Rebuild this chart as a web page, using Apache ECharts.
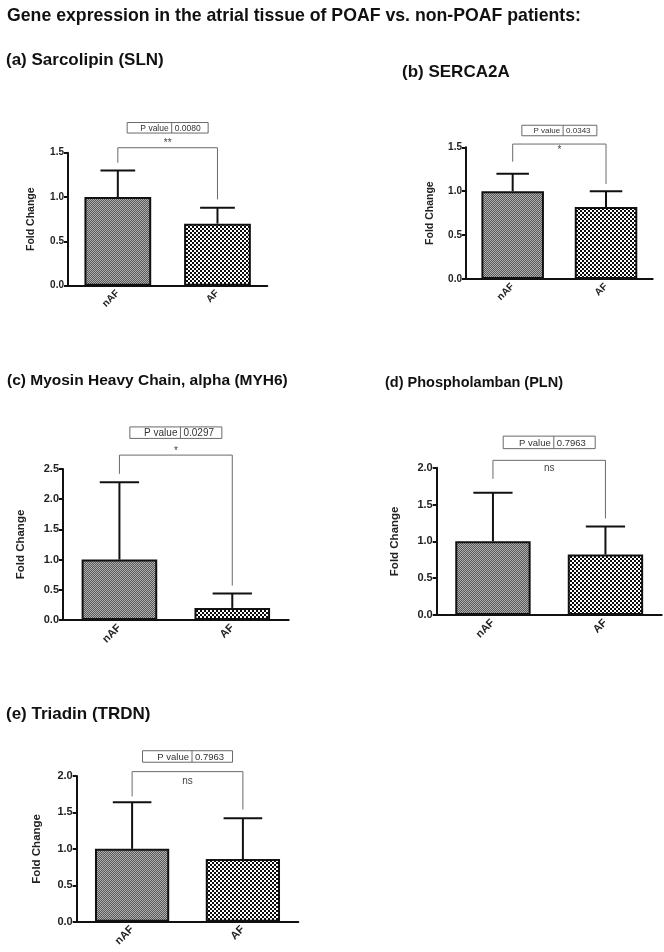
<!DOCTYPE html>
<html>
<head>
<meta charset="utf-8">
<script src="https://cdn.jsdelivr.net/npm/echarts@6/dist/echarts.min.js"></script>
<style>
html,body{margin:0;padding:0;background:#fff;}
#chart{width:664px;height:952px;}
</style>
</head>
<body>
<div id="chart"></div>
<script>
// ---------- data ----------
const categories = ['nAF', 'AF'];
const slnMean = [1.00, 0.70];
const slnErr = [0.30, 0.18];
const sercaMean = [1.00, 0.82];
const sercaErr = [0.20, 0.18];
const myh6Mean = [1.00, 0.20];
const myh6Err = [1.28, 0.24];
const plnMean = [1.00, 0.82];
const plnErr = [0.66, 0.38];
const trdnMean = [1.00, 0.86];
const trdnErr = [0.64, 0.56];
const yMax = [1.5, 1.5, 2.5, 2.0, 2.0];
const yInterval = 0.5;
const pValues = ['0.0080', '0.0343', '0.0297', '0.7963', '0.7963'];
const sigLabels = ['**', '*', '*', 'ns', 'ns'];
const mainTitle = 'Gene expression in the atrial tissue of POAF vs. non-POAF patients:';
const panelTitles = ['(a) Sarcolipin (SLN)', '(b) SERCA2A', '(c) Myosin Heavy Chain, alpha (MYH6)', '(d) Phospholamban (PLN)', '(e) Triadin (TRDN)'];
const yAxisName = 'Fold Change';
// significance bracket levels (data units): top, left leg end, right leg end
const bracketTop = [1.556, 1.537, 2.73, 2.10, 2.06];
const bracketLeft = [1.387, 1.336, 2.42, 1.85, 1.72];
const bracketRight = [0.974, 1.082, 0.57, 1.31, 1.54];

const means = [slnMean, sercaMean, myh6Mean, plnMean, trdnMean];
const errs = [slnErr, sercaErr, myh6Err, plnErr, trdnErr];

// ---------- layout / style ----------
const grids = [
  {left: 68, top: 152.7, width: 199.3, height: 133},
  {left: 466, top: 147.3, width: 186.7, height: 131.7},
  {left: 63, top: 469, width: 225.7, height: 151},
  {left: 436.7, top: 467.7, width: 225, height: 147.3},
  {left: 76.7, top: 776, width: 221.6, height: 145.7}
];
const titlePos = [
  {left: 1, top: 47}, {left: 397, top: 59}, {left: 2, top: 368}, {left: 380, top: 370}, {left: 1, top: 701}
];
const titleFs = [17, 17, 15.5, 14.5, 17];
const tickFs = [10, 10, 11, 11, 11];
const nameFs = [10.5, 10.5, 11.5, 11.5, 11.5];
const nameGaps = [31, 30, 36, 36, 34];
const boxW = [81, 75, 92, 92, 90];
const boxH = [10.5, 10.5, 11.5, 12.5, 11.5];
const boxGap = [14.7, 8.3, 16.7, 11.7, 9.4];
const pFs = [8.5, 8, 10, 9.5, 9.5];
const sigMode = ['above', 'below', 'above', 'belowMid', 'belowMid'];
const sigOff = [0, 1, 0, 8, 10];
const FONT = '"Liberation Sans", Arial, sans-serif';

function makePattern(size, cell, c1, c2) {
  const cv = document.createElement('canvas');
  cv.width = size; cv.height = size;
  const ctx = cv.getContext('2d');
  ctx.fillStyle = c1; ctx.fillRect(0, 0, size, size);
  ctx.fillStyle = c2;
  for (let y = 0; y < size; y += cell) {
    for (let x = 0; x < size; x += cell) {
      if (((x / cell) + (y / cell)) % 2 === 0) ctx.fillRect(x, y, cell, cell);
    }
  }
  return cv;
}
const patFine = makePattern(2, 1, '#585858', '#b0b0b0');
const patCoarse = makePattern(4, 2, '#0a0a0a', '#ffffff');

const chart = echarts.init(document.getElementById('chart'), null, {renderer: 'canvas'});

const option = {
  animation: false,
  backgroundColor: '#fff',
  title: [{
    text: mainTitle, left: 2, top: 2,
    textStyle: {fontFamily: FONT, fontWeight: 'bold', fontSize: 17.7, color: '#111'}
  }].concat(panelTitles.map((t, i) => ({
    text: t, left: titlePos[i].left, top: titlePos[i].top,
    textStyle: {fontFamily: FONT, fontWeight: 'bold', fontSize: titleFs[i], color: '#111'}
  }))),
  grid: grids.map(g => Object.assign({containLabel: false}, g)),
  xAxis: grids.map((g, i) => ({
    type: 'category', gridIndex: i, data: categories,
    axisLine: {lineStyle: {color: '#111', width: 2}},
    axisTick: {alignWithLabel: true, length: 5, lineStyle: {color: '#111', width: 2}},
    axisLabel: {rotate: 45, margin: 6, fontFamily: FONT, fontWeight: 'bold', fontSize: tickFs[i], color: '#222'},
    splitLine: {show: false}
  })),
  yAxis: grids.map((g, i) => ({
    type: 'value', gridIndex: i, min: 0, max: yMax[i], interval: yInterval,
    name: yAxisName, nameLocation: 'middle', nameGap: nameGaps[i],
    nameTextStyle: {fontFamily: FONT, fontWeight: 'bold', fontSize: nameFs[i], color: '#222'},
    axisLine: {show: true, lineStyle: {color: '#111', width: 2}},
    axisTick: {show: true, length: 4, lineStyle: {color: '#111', width: 2}},
    axisLabel: {margin: 4, fontFamily: FONT, fontWeight: 'bold', fontSize: tickFs[i], color: '#222',
      formatter: v => v.toFixed(1)},
    splitLine: {show: false}
  })),
  series: []
};

for (let i = 0; i < 5; i++) {
  option.series.push({
    type: 'bar', xAxisIndex: i, yAxisIndex: i, barWidth: '67%',
    data: means[i].map((v, k) => ({
      value: v,
      itemStyle: {
        color: {image: k === 0 ? patFine : patCoarse, repeat: 'repeat'},
        borderColor: '#111', borderWidth: 2
      }
    })),
    z: 2
  });
  option.series.push({
    type: 'custom', xAxisIndex: i, yAxisIndex: i, z: 3,
    data: means[i].map((v, k) => [k, v, errs[i][k]]),
    encode: {x: 0, y: 1},
    renderItem: function (params, api) {
      const x = api.value(0), m = api.value(1), e = api.value(2);
      const p0 = api.coord([x, m]);
      const p1 = api.coord([x, m + e]);
      const bw = api.size([1, 0])[0];
      const hw = bw * 0.67 * 0.26;
      const st = {stroke: '#111', lineWidth: 2};
      return {type: 'group', children: [
        {type: 'line', shape: {x1: p0[0], y1: p0[1], x2: p1[0], y2: p1[1]}, style: st},
        {type: 'line', shape: {x1: p1[0] - hw, y1: p1[1], x2: p1[0] + hw, y2: p1[1]}, style: st}
      ]};
    }
  });
  option.series.push({
    type: 'custom', xAxisIndex: i, yAxisIndex: i, z: 4, clip: false,
    data: [[0, 1, bracketTop[i], bracketLeft[i], bracketRight[i]]],
    encode: {x: [0, 1], y: [2, 3, 4]},
    renderItem: function (params, api) {
      const top = api.value(2);
      const pl = api.coord([api.value(0), top]);
      const pr = api.coord([api.value(1), top]);
      const plb = api.coord([api.value(0), api.value(3)]);
      const prb = api.coord([api.value(1), api.value(4)]);
      const mid = (pl[0] + pr[0]) / 2;
      const yb = pl[1] - boxGap[i];
      const bx = mid - boxW[i] / 2;
      const by = yb - boxH[i];
      const split = bx + boxW[i] * 0.55;
      const gst = {stroke: '#6a6a6a', lineWidth: 1, fill: null};
      let sigY, sigVA;
      if (sigMode[i] === 'above') { sigY = pl[1] + 1; sigVA = 'bottom'; }
      else if (sigMode[i] === 'below') { sigY = pl[1] + sigOff[i]; sigVA = 'top'; }
      else { sigY = pl[1] + sigOff[i]; sigVA = 'middle'; }
      return {type: 'group', children: [
        {type: 'polyline', shape: {points: [[plb[0], plb[1]], [pl[0], pl[1]], [pr[0], pr[1]], [prb[0], prb[1]]]}, style: gst},
        {type: 'rect', shape: {x: bx, y: by, width: boxW[i], height: boxH[i]}, style: {stroke: '#6a6a6a', lineWidth: 1, fill: '#fff'}},
        {type: 'line', shape: {x1: split, y1: by, x2: split, y2: by + boxH[i]}, style: gst},
        {type: 'text', style: {text: 'P value', x: split - 3, y: by + boxH[i] / 2 + 0.5, align: 'right', verticalAlign: 'middle',
          font: pFs[i] + 'px ' + FONT, fill: '#333'}},
        {type: 'text', style: {text: pValues[i], x: split + 3, y: by + boxH[i] / 2 + 0.5, align: 'left', verticalAlign: 'middle',
          font: pFs[i] + 'px ' + FONT, fill: '#333'}},
        {type: 'text', style: {text: sigLabels[i], x: mid, y: sigY, align: 'center', verticalAlign: sigVA,
          font: '10px ' + FONT, fill: '#444'}}
      ]};
    }
  });
}

chart.setOption(option);
</script>
</body>
</html>
